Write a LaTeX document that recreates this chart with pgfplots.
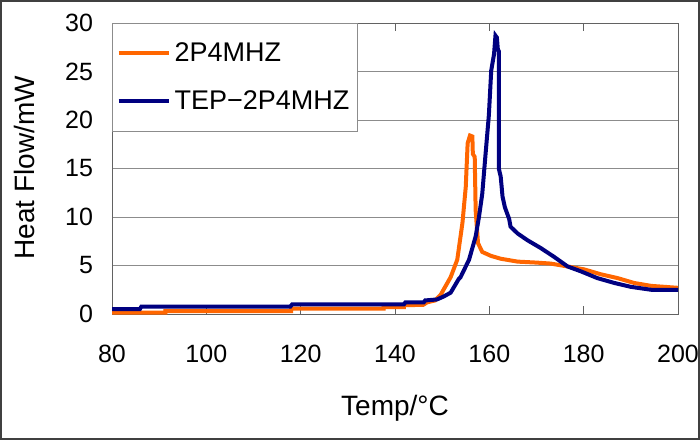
\documentclass[border=0pt]{standalone}
\usepackage{fontspec}
\setmainfont{Liberation Sans}
\usepackage{pgfplots}
\pgfplotsset{compat=1.18}
\definecolor{orng}{HTML}{FF6600}
\definecolor{navy}{HTML}{000080}
\definecolor{gridc}{HTML}{8C8C8C}
\begin{document}
\begin{tikzpicture}
\useasboundingbox (0,0) rectangle (350pt,220pt);
\draw[color=black!75, line width=1pt] (0.5pt,0.5pt) rectangle (349.5pt,219.5pt);
\begin{axis}[
  at={(56pt,63pt)}, anchor=south west,
  scale only axis, width=283pt, height=145.5pt,
  xmin=80, xmax=200, ymin=0, ymax=30,
  xtick={80,100,...,200}, ytick={0,5,...,30},
  ymajorgrids, grid style={gridc, line width=0.5pt},
  axis line style={gridc!70!black, line width=0.5pt},
  major tick length=4pt,
  tick style={gridc!70!black, line width=0.5pt},
  ytick style={draw=none},
  /pgf/number format/assume math mode=true,
  ticklabel style={font=\fontsize{12.5}{14}\selectfont},
  xticklabel style={yshift=-12pt},
  yticklabel style={xshift=-6pt},
  xlabel={Temp/°C}, ylabel={Heat Flow/mW},
  label style={font=\fontsize{14}{16}\selectfont},
  xlabel style={at={(axis description cs:0.5,-0.323)}, anchor=center},
  ylabel style={at={(axis description cs:-0.154,0.502)}, anchor=center, rotate=0},
  legend style={at={(axis description cs:0,1)}, anchor=north west, draw=gridc, fill=white,
    font=\fontsize{13.5}{16}\selectfont, inner xsep=2pt, inner ysep=7.5pt, row sep=9pt,
    line width=0.5pt},
  legend cell align=left,
  legend image code/.code={\draw[#1, line width=2pt] (0pt,0pt) -- (25pt,0pt);},
]
\addplot[orng, line width=2pt] coordinates {
(80,0.15) (91.3,0.15) (91.3,0.3) (118,0.3) (118,0.55) (137.6,0.55) (137.6,0.7)
(141.9,0.7) (141.9,0.9) (146.0,0.95) (146.8,1.2) (148.5,1.4) (149.7,2.0) (151.1,3.2)
(151.8,3.8) (153.2,5.6) (154.3,9.4) (155.0,13.1) (155.4,17.6) (155.9,18.4) (156.4,18.3)
(156.5,16.5) (156.9,16.2) (157.1,10.7) (157.6,7.3) (158.5,6.4) (160.3,6.0) (162.4,5.7)
(166,5.4) (170,5.3) (173,5.2) (176.6,4.9) (180.1,4.6) (183.6,4.1) (187.2,3.7)
(190.7,3.2) (194.3,2.9) (200,2.7)
};
\addlegendentry{2P4MHZ}
\addplot[navy, line width=2pt] coordinates {
(80,0.5) (85.9,0.5) (86.2,0.75) (117.8,0.75) (118.2,1.0) (141.9,1.0) (142.2,1.2)
(146.1,1.2) (146.4,1.4) (148.9,1.5) (150.3,1.8) (151.8,2.2) (153.5,3.6) (153.9,3.8)
(155.7,5.6) (157.1,8.0) (157.8,10.0) (158.5,12.4) (159.2,16.5) (159.9,20.5) (160.4,25.1)
(161.0,26.8) (161.3,28.7) (161.6,28.5) (161.8,27.3) (162.0,27.1) (162.0,15.0) (162.4,14.2)
(162.8,12.1) (163.3,11.0) (164.2,9.8) (164.5,9.0) (166.0,8.3) (168.1,7.6) (170.9,6.8)
(173.7,5.9) (176.6,4.9) (179.4,4.4) (182.9,3.7) (186.5,3.2) (190.0,2.8) (194.3,2.5)
(200,2.5)
};
\addlegendentry{TEP−2P4MHZ}
\end{axis}
\end{tikzpicture}
\end{document}
